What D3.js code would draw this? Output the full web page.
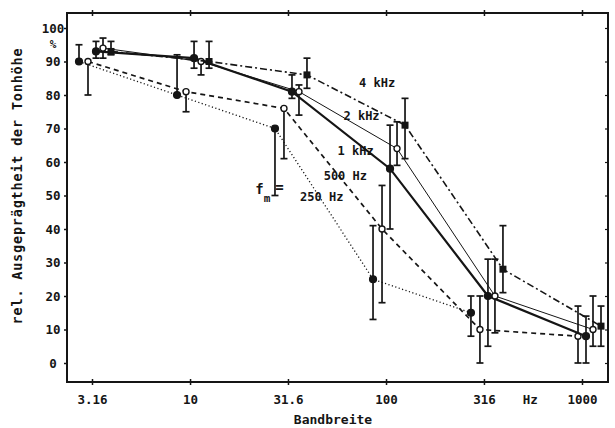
<!DOCTYPE html>
<html>
<head>
<meta charset="utf-8">
<script src="https://cdn.jsdelivr.net/npm/d3@7"></script>
<style>
  body { margin: 0; background: #fff; }
  text, tspan { font-family: "DejaVu Sans Mono", monospace; font-weight: bold; fill: #151515; }
</style>
</head>
<body>
<div id="chart"></div>
<script>
// Bandbreite (Hz), log axis
var bandwidths = [3.16, 10, 31.6, 100, 316, 1000];
var xTickLabels = ["3.16", "10", "31.6", "100", "316", "1000"];
var yTicks = [0, 10, 20, 30, 40, 50, 60, 70, 80, 90, 100];

var seriesNames = ["250 Hz", "500 Hz", "1 kHz", "2 kHz", "4 kHz"];
// mean values per series (null = not measured)
var v250 = [90, 80, 70, 25, 15, null];
var v500 = [90, 81, 76, 40, 10, 8];
var v1k  = [93, 91, 81, 58, 20, 8];
var v2k  = [94, 90, 81, 64, 20, 10];
var v4k  = [93, 90, 86, 71, 28, 11];
// error bar ends
var lo250 = [90, 80, 50, 13, 8, null];
var hi250 = [95, 92, 70, 41, 20, null];
var lo500 = [80, 75, 61, 18, 0, 0];
var hi500 = [90, 81, 76, 53, 20, 17];
var lo1k  = [91, 88, 79, 40, 5, 0];
var hi1k  = [96, 96, 86, 71, 31, 14];
var lo2k  = [91, 86, 74, 59, 9, 5];
var hi2k  = [97, 90, 83, 72, 31, 20];
var lo4k  = [92, 88, 82, 61, 21, 5];
var hi4k  = [96, 96, 91, 79, 41, 17];

// label anchor positions in data units [bandwidth, value]
var labelPos = [[47, 48.5], [62, 54.5], [70, 62], [75, 72.5], [90, 82.5]];

var values = [v250, v500, v1k, v2k, v4k];
var lows = [lo250, lo500, lo1k, lo2k, lo4k];
var highs = [hi250, hi500, hi1k, hi2k, hi4k];

var dx = [-13, -4, 4, 11, 19];           // horizontal spread of the symbols
var dash = ["1.2,2.4", "5,4", null, null, "7,3,2,3"];
var lw = [1.3, 1.7, 2.2, 1, 1.6];
var marker = ["dot", "open", "dot", "open", "square"];

var W = 615, H = 428;
var margin = {left: 67, top: 13};
var width = 541, height = 369;
var ink = "#151515";

var svg = d3.select("#chart").append("svg")
    .attr("width", W).attr("height", H);
var g = svg.append("g")
    .attr("transform", "translate(" + margin.left + "," + margin.top + ")");

var x = d3.scaleLog().domain([3.16, 1000]).range([25, 515]);
var y = d3.scaleLinear().domain([0, 100]).range([350, 15]);

// frame
g.append("rect")
    .attr("width", width).attr("height", height)
    .attr("fill", "none").attr("stroke", ink).attr("stroke-width", 2);

// axes
var xb = g.append("g").attr("transform", "translate(0," + height + ")")
    .call(d3.axisBottom(x).tickValues(bandwidths).tickSize(4)
        .tickFormat(function (d, i) { return xTickLabels[i]; }));
xb.select(".domain").remove();
xb.selectAll("line").attr("y1", -3).attr("y2", 3).attr("stroke", ink).attr("stroke-width", 1.5);
xb.selectAll("text").attr("y", 13).style("font-size", "12.5px");

var xt = g.append("g").call(d3.axisTop(x).tickValues(bandwidths).tickSize(4).tickFormat(""));
xt.select(".domain").remove();
xt.selectAll("line").attr("y1", -3).attr("y2", 3).attr("stroke", ink).attr("stroke-width", 1.5);

var yl = g.append("g").call(d3.axisLeft(y).tickValues(yTicks).tickSize(3).tickPadding(6));
yl.select(".domain").remove();
yl.selectAll("line").attr("stroke", ink).attr("stroke-width", 1.5);
yl.selectAll("text").attr("x", -14).attr("text-anchor", "middle").style("font-size", "12.5px");

var yr = g.append("g").attr("transform", "translate(" + width + ",0)")
    .call(d3.axisRight(y).tickValues(yTicks).tickSize(3).tickFormat(""));
yr.select(".domain").remove();
yr.selectAll("line").attr("x1", -3).attr("x2", 0).attr("stroke", ink).attr("stroke-width", 1.2);

g.append("text").attr("x", -14).attr("y", (y(100) + y(90)) / 2 + 3)
    .attr("text-anchor", "middle").style("font-size", "11px").text("%");

// axis titles
g.append("text").attr("x", x(545)).attr("y", height + 22)
    .attr("text-anchor", "middle").style("font-size", "12.5px").text("Hz");
g.append("text").attr("x", 266).attr("y", height + 42)
    .attr("text-anchor", "middle").style("font-size", "13px").text("Bandbreite");
g.append("text")
    .attr("transform", "translate(" + (-45) + "," + 173 + ") rotate(-90)")
    .attr("text-anchor", "middle").style("font-size", "13.5px")
    .style("letter-spacing", "0.8px")
    .text("rel. Ausgeprägtheit der Tonhöhe");

// series
values.forEach(function (vals, s) {
    var pts = bandwidths.map(function (b, i) {
        return {b: b, v: vals[i], lo: lows[s][i], hi: highs[s][i]};
    }).filter(function (d) { return d.v != null; });

    var line = d3.line()
        .x(function (d) { return x(d.b) + dx[s]; })
        .y(function (d) { return y(d.v); });

    g.append("path").datum(pts)
        .attr("d", line)
        .attr("fill", "none")
        .attr("stroke", ink)
        .attr("stroke-width", lw[s])
        .attr("stroke-dasharray", dash[s]);

    var bars = g.selectAll(null).data(pts).enter().append("g")
        .attr("stroke", ink).attr("stroke-width", 1.7);
    bars.append("line")
        .attr("x1", function (d) { return x(d.b) + dx[s]; })
        .attr("x2", function (d) { return x(d.b) + dx[s]; })
        .attr("y1", function (d) { return y(d.lo); })
        .attr("y2", function (d) { return y(d.hi); });
    ["lo", "hi"].forEach(function (k) {
        bars.filter(function (d) { return d[k] != d.v; }).append("line")
            .attr("x1", function (d) { return x(d.b) + dx[s] - 3.5; })
            .attr("x2", function (d) { return x(d.b) + dx[s] + 3.5; })
            .attr("y1", function (d) { return y(d[k]); })
            .attr("y2", function (d) { return y(d[k]); });
    });

    var sym = g.selectAll(null).data(pts).enter();
    if (marker[s] === "square") {
        sym.append("rect")
            .attr("x", function (d) { return x(d.b) + dx[s] - 3.5; })
            .attr("y", function (d) { return y(d.v) - 3.5; })
            .attr("width", 7).attr("height", 7)
            .attr("fill", ink);
    } else {
        sym.append("circle")
            .attr("cx", function (d) { return x(d.b) + dx[s]; })
            .attr("cy", function (d) { return y(d.v); })
            .attr("r", marker[s] === "open" ? 3 : 3.4)
            .attr("fill", marker[s] === "open" ? "#fff" : ink)
            .attr("stroke", ink).attr("stroke-width", 1.4);
    }
});

// series labels
seriesNames.forEach(function (name, s) {
    g.append("text")
        .attr("x", x(labelPos[s][0]))
        .attr("y", y(labelPos[s][1]))
        .attr("text-anchor", "middle")
        .style("font-size", "12px")
        .text(name);
});

// f_m =
var fm = g.append("text")
    .attr("x", x(21.5)).attr("y", y(50.5))
    .attr("fill", ink)
    .style("font-size", "14px");
fm.append("tspan").attr("fill", ink).text("f");
fm.append("tspan").attr("fill", ink).attr("dy", 8).style("font-size", "11px").text("m");
fm.append("tspan").attr("fill", ink).attr("dy", -10).attr("dx", 5).text("=");
</script>
</body>
</html>
